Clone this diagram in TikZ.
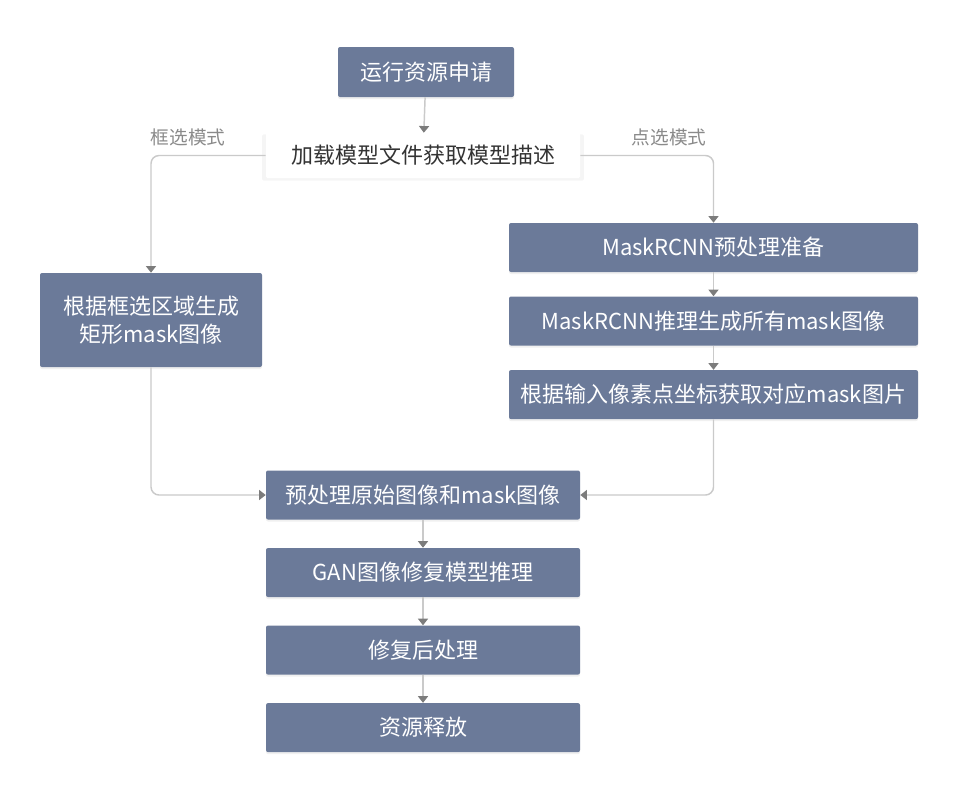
\documentclass[tikz,border=0pt]{standalone}
\usepackage{fontspec}
\setmainfont{Noto Sans CJK SC}
\usetikzlibrary{arrows.meta,positioning,shadows}
\definecolor{boxblue}{HTML}{6B7A99}
\definecolor{textdark}{HTML}{333333}
\definecolor{modegray}{HTML}{8A8A8A}
\definecolor{linegray}{HTML}{CACACA}
\definecolor{tipgray}{HTML}{7C7C7C}
\begin{document}
\begin{tikzpicture}[x=0.75pt, y=-0.75pt, font=\fontsize{16.5}{21}\selectfont, node distance=18pt,
 box/.style={fill=boxblue, text=white, rounded corners=1.5pt, align=center, inner sep=0pt, minimum height=36.75pt,
   drop shadow={opacity=0.12, shadow xshift=0pt, shadow yshift=-1.5pt}},
 whitebox/.style={fill=white, text=textdark, rounded corners=1pt, inner sep=0pt, minimum width=235.5pt, minimum height=33.75pt,
   drop shadow={opacity=0.08, shadow xshift=0pt, shadow yshift=-1.5pt, shadow scale=1.025}},
 mode/.style={text=modegray, font=\fontsize{14}{16}\selectfont},
 line/.style={draw=linegray, line width=1.1pt, rounded corners=6pt, -{Triangle[length=5pt, width=7.5pt, color=tipgray]}}]
\useasboundingbox (0,0) rectangle (960,800);
% top
\node[box, minimum width=132pt, minimum height=37.5pt] (req) at (426,72) {运行资源申请};
\node[whitebox] (load) at (423,155.5) {加载模型文件获取模型描述};
\node[mode] (boxsel) at (188,137) {框选模式};
\node[mode] (pointsel) at (669,137) {点选模式};
% two branches
\node[box, minimum width=166.5pt, minimum height=70.5pt] (rect) at (151,320) {根据框选区域生成\\矩形mask图像};
\node[box, minimum width=306.75pt] (prep) at (713.5,247.5) {MaskRCNN预处理准备};
\node[box, minimum width=306.75pt, below=of prep] (infer) {MaskRCNN推理生成所有mask图像};
\node[box, minimum width=306.75pt, below=of infer] (pick) {根据输入像素点坐标获取对应mask图片};
% common part
\node[box, minimum width=235.5pt] (pre) at (423,495) {预处理原始图像和mask图像};
\node[box, minimum width=235.5pt, below=21pt of pre] (gan) {GAN图像修复模型推理};
\node[box, minimum width=235.5pt, below=21pt of gan] (post) {修复后处理};
\node[box, minimum width=235.5pt, below=21pt of post] (free) {资源释放};
\draw[line] (req) -- (load);
\draw[line] (load.west) -| (rect.north);
\draw[line] (load.east) -| (prep.north);
\draw[line] (prep) -- (infer); \draw[line] (infer) -- (pick);
\draw[line] (rect.south) |- (pre.west);
\draw[line] (pick.south) |- (pre.east);
\draw[line] (pre) -- (gan); \draw[line] (gan) -- (post); \draw[line] (post) -- (free);
\end{tikzpicture}
\end{document}
